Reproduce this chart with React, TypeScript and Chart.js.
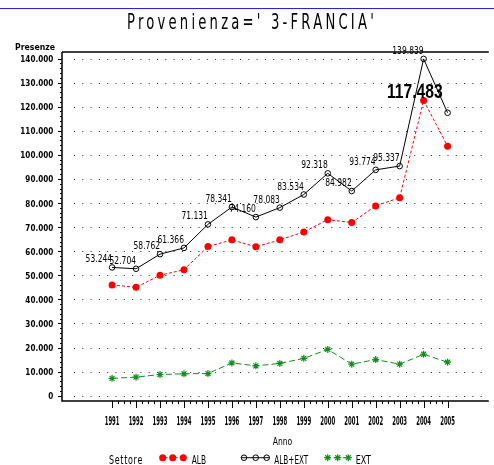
import React, { useEffect, useRef } from 'react';
import { Chart, registerables } from 'chart.js';

Chart.register(...registerables);

const TITLE = "Provenienza=' 3-FRANCIA'";
const Y_TITLE = 'Presenze';
const X_TITLE = 'Anno';
const LEGEND_TITLE = 'Settore';

const YEARS = [1991, 1992, 1993, 1994, 1995, 1996, 1997, 1998, 1999, 2000, 2001, 2002, 2003, 2004, 2005];
const ALB = [46000, 45000, 50000, 52300, 61900, 64700, 61800, 64700, 68000, 73100, 71900, 78800, 82200, 122600, 103600];
const ALB_EXT = [53244, 52704, 58762, 61366, 71131, 78341, 74160, 78083, 83534, 92318, 84982, 93774, 95337, 139839, 117483];
const EXT = [7200, 7700, 8800, 9100, 9200, 13600, 12400, 13400, 15500, 19200, 13100, 15000, 13100, 17200, 13900];
const Y_TICKS = [0, 10000, 20000, 30000, 40000, 50000, 60000, 70000, 80000, 90000, 100000, 110000, 120000, 130000, 140000];
const SERIES_NAMES = ['ALB', 'ALB+EXT', 'EXT'];

const RED = '#ff0000';
const BLACK = '#000000';
const GREEN = '#10901a';
const FONT = "'DejaVu Sans', sans-serif";

const fmt = (n: number) => String(n).replace(/\B(?=(\d{3})+(?!\d))/g, '.');

function measure(ctx: CanvasRenderingContext2D, s: string, font: string, spacing = '0px') {
  ctx.save();
  ctx.font = font;
  (ctx as any).letterSpacing = spacing;
  const w = ctx.measureText(s).width;
  ctx.restore();
  return w;
}

function drawText(
  ctx: CanvasRenderingContext2D,
  s: string,
  x: number,
  y: number,
  font: string,
  align: CanvasTextAlign,
  sx: number,
  color = '#000',
  spacing = '0px'
) {
  ctx.save();
  ctx.font = font;
  (ctx as any).letterSpacing = spacing;
  ctx.fillStyle = color;
  ctx.textAlign = align;
  ctx.textBaseline = 'alphabetic';
  ctx.translate(x, y);
  ctx.scale(sx, 1);
  ctx.fillText(s, 0, 0);
  ctx.restore();
}

function marker(ctx: CanvasRenderingContext2D, kind: number, x: number, y: number) {
  ctx.save();
  ctx.setLineDash([]);
  if (kind === 0) {
    ctx.fillStyle = RED;
    ctx.beginPath();
    ctx.arc(x, y, 3.5, 0, Math.PI * 2);
    ctx.fill();
  } else if (kind === 1) {
    ctx.strokeStyle = BLACK;
    ctx.lineWidth = 1;
    ctx.beginPath();
    ctx.arc(x, y, 2.8, 0, Math.PI * 2);
    ctx.stroke();
  } else {
    ctx.strokeStyle = GREEN;
    ctx.lineWidth = 1.2;
    const r = 3.5;
    ctx.beginPath();
    for (let k = 0; k < 4; k++) {
      const a = (k * Math.PI) / 4;
      ctx.moveTo(x - r * Math.cos(a), y - r * Math.sin(a));
      ctx.lineTo(x + r * Math.cos(a), y + r * Math.sin(a));
    }
    ctx.stroke();
  }
  ctx.restore();
}

const decor = {
  id: 'sasDecor',
  beforeDatasetsDraw(chart: any) {
    const ctx: CanvasRenderingContext2D = chart.ctx;
    const { left, right, top, bottom } = chart.chartArea;
    const xs = chart.scales.x;
    const ys = chart.scales.y;
    ctx.save();
    // blue rule at top
    ctx.strokeStyle = '#2020ff';
    ctx.lineWidth = 1;
    ctx.beginPath();
    ctx.moveTo(0, 8.5);
    ctx.lineTo(chart.width, 8.5);
    ctx.stroke();

    // dotted grid lines
    ctx.strokeStyle = '#222';
    ctx.lineWidth = 1;
    ctx.setLineDash([1, 7.3]);
    for (const v of Y_TICKS) {
      const y = Math.round(ys.getPixelForValue(v)) + 0.5;
      ctx.beginPath();
      ctx.moveTo(left + 12, y);
      ctx.lineTo(right, y);
      ctx.stroke();
    }
    ctx.setLineDash([]);

    // frame / axes
    ctx.strokeStyle = '#000';
    ctx.lineWidth = 1.5;
    ctx.beginPath();
    ctx.moveTo(left, top);
    ctx.lineTo(right, top);
    ctx.moveTo(left, top);
    ctx.lineTo(left, bottom);
    ctx.lineTo(right, bottom);
    ctx.stroke();

    // y ticks
    ctx.lineWidth = 1;
    ctx.beginPath();
    for (let i = 0; i < Y_TICKS.length; i++) {
      const v = Y_TICKS[i];
      const y = Math.round(ys.getPixelForValue(v)) + 0.5;
      ctx.moveTo(left - 4, y);
      ctx.lineTo(left, y);
      if (i < Y_TICKS.length - 1) {
        const step = (Y_TICKS[i + 1] - v) / 5;
        for (let k = 1; k < 5; k++) {
          const ym = Math.round(ys.getPixelForValue(v + k * step)) + 0.5;
          ctx.moveTo(left - 2, ym);
          ctx.lineTo(left, ym);
        }
      }
    }
    // x ticks
    for (let i = 0; i < YEARS.length; i++) {
      const x = Math.round(xs.getPixelForValue(YEARS[i])) + 0.5;
      ctx.moveTo(x, bottom);
      ctx.lineTo(x, bottom + 7);
      if (i < YEARS.length - 1) {
        for (let k = 1; k < 4; k++) {
          const xm = Math.round(xs.getPixelForValue(YEARS[i] + k / 4)) + 0.5;
          ctx.moveTo(xm, bottom);
          ctx.lineTo(xm, bottom + 3);
        }
      }
    }
    ctx.stroke();

    // y tick labels
    const yFont = `bold 8.5px ${FONT}`;
    const ySx = 33 / measure(ctx, '140.000', yFont);
    for (const v of Y_TICKS) {
      const y = ys.getPixelForValue(v);
      drawText(ctx, fmt(v), left - 8.7, y + 3.5, yFont, 'right', ySx);
    }
    // x tick labels
    const xFont = `bold 11.5px ${FONT}`;
    const xSx = 14.8 / measure(ctx, '1991', xFont);
    for (const yr of YEARS) {
      drawText(ctx, String(yr), xs.getPixelForValue(yr), 424.5, xFont, 'center', xSx);
    }
    ctx.restore();
  },
  afterDatasetsDraw(chart: any) {
    const ctx: CanvasRenderingContext2D = chart.ctx;
    const xs = chart.scales.x;
    const ys = chart.scales.y;

    // value labels for ALB+EXT
    const dFont = `10px ${FONT}`;
    const dSx = 26.5 / measure(ctx, '53.244', dFont);
    const last = ALB_EXT.length - 1;
    for (let i = 0; i < last; i++) {
      const px = xs.getPixelForValue(YEARS[i]);
      const py = ys.getPixelForValue(ALB_EXT[i]);
      drawText(ctx, fmt(ALB_EXT[i]), px, py - 5, dFont, 'right', dSx);
    }
    {
      const s = fmt(ALB_EXT[last]);
      const bFont = `bold 19.5px 'Liberation Sans', Arial, sans-serif`;
      const bSx = 55.7 / measure(ctx, s, bFont);
      const px = xs.getPixelForValue(YEARS[last]);
      const py = ys.getPixelForValue(ALB_EXT[last]);
      drawText(ctx, s, px - 5, py - 15, bFont, 'right', bSx);
    }

    // title
    const tFont = `20.5px ${FONT}`;
    const tSp = '5px';
    const tSx = 250 / measure(ctx, TITLE, tFont, tSp);
    drawText(ctx, TITLE, 249.5 + 2.5, 29.3, tFont, 'center', tSx, '#000', tSp);

    // axis titles
    const pFont = `bold 8.5px ${FONT}`;
    drawText(ctx, Y_TITLE, 15, 50, pFont, 'left', 40 / measure(ctx, Y_TITLE, pFont));
    const aFont = `11px ${FONT}`;
    drawText(ctx, X_TITLE, 272.7, 445.3, aFont, 'left', 19.6 / measure(ctx, X_TITLE, aFont));

    // legend
    const lFont = `12px ${FONT}`;
    const sFont = `11.5px ${FONT}`;
    drawText(ctx, LEGEND_TITLE, 109, 464, sFont, 'left', 34 / measure(ctx, LEGEND_TITLE, sFont, '1px'), '#000', '1px');
    const groups = [
      { m: [162.7, 172.7, 183.3], tx: 191.7, tw: 14.3, color: RED, dash: [3, 2] },
      { m: [244, 255.7, 266.7], tx: 274.3, tw: 34, color: BLACK, dash: [] as number[] },
      { m: [327.7, 337.7, 348.3], tx: 355.7, tw: 15.3, color: GREEN, dash: [6, 3] },
    ];
    const ly = 457.7;
    groups.forEach((g, k) => {
      ctx.save();
      ctx.strokeStyle = g.color;
      ctx.lineWidth = 1;
      ctx.setLineDash(g.dash);
      ctx.beginPath();
      ctx.moveTo(g.m[0] - 3, ly);
      ctx.lineTo(g.m[2] + 3, ly);
      ctx.stroke();
      ctx.restore();
      g.m.forEach((mx) => marker(ctx, k, mx, ly));
      const name = SERIES_NAMES[k];
      drawText(ctx, name, g.tx, 464, lFont, 'left', g.tw / measure(ctx, name, lFont));
    });
  },
};

export default function App() {
  const ref = useRef<HTMLCanvasElement>(null);
  useEffect(() => {
    if (!ref.current) return;
    const pts = (arr: number[]) => YEARS.map((x, i) => ({ x, y: arr[i] }));
    const chart = new Chart(ref.current, {
      type: 'line',
      data: {
        datasets: [
          {
            label: SERIES_NAMES[0],
            data: pts(ALB),
            borderColor: RED,
            borderWidth: 1,
            borderDash: [3, 2],
            pointStyle: 'circle',
            pointRadius: 3.5,
            pointBackgroundColor: RED,
            pointBorderColor: RED,
            pointBorderWidth: 0,
            tension: 0,
          },
          {
            label: SERIES_NAMES[1],
            data: pts(ALB_EXT),
            borderColor: BLACK,
            borderWidth: 1,
            pointStyle: 'circle',
            pointRadius: 2.8,
            pointBackgroundColor: 'rgba(0,0,0,0)',
            pointBorderColor: BLACK,
            pointBorderWidth: 1,
            tension: 0,
          },
          {
            label: SERIES_NAMES[2],
            data: pts(EXT),
            borderColor: GREEN,
            borderWidth: 1,
            borderDash: [6, 3],
            pointStyle: 'star',
            pointRadius: 3.5,
            pointBackgroundColor: GREEN,
            pointBorderColor: GREEN,
            pointBorderWidth: 1.2,
            tension: 0,
          },
        ],
      },
      options: {
        animation: false,
        responsive: false,
        maintainAspectRatio: false,
        devicePixelRatio: 1,
        layout: { padding: { left: 62, top: 52, right: 0, bottom: 64 } },
        scales: {
          x: { type: 'linear', display: false, min: 1988.91, max: 2006.72 },
          y: { type: 'linear', display: false, min: -2200, max: 142700 },
        },
        plugins: {
          legend: { display: false },
          tooltip: { enabled: false },
          title: { display: false },
        },
      },
      plugins: [decor],
    });
    return () => chart.destroy();
  }, []);
  return (
    <div style={{ position: 'absolute', left: 0, top: 0, width: 494, height: 465, background: '#fff' }}>
      <canvas ref={ref} width={494} height={465} style={{ display: 'block' }} />
    </div>
  );
}
